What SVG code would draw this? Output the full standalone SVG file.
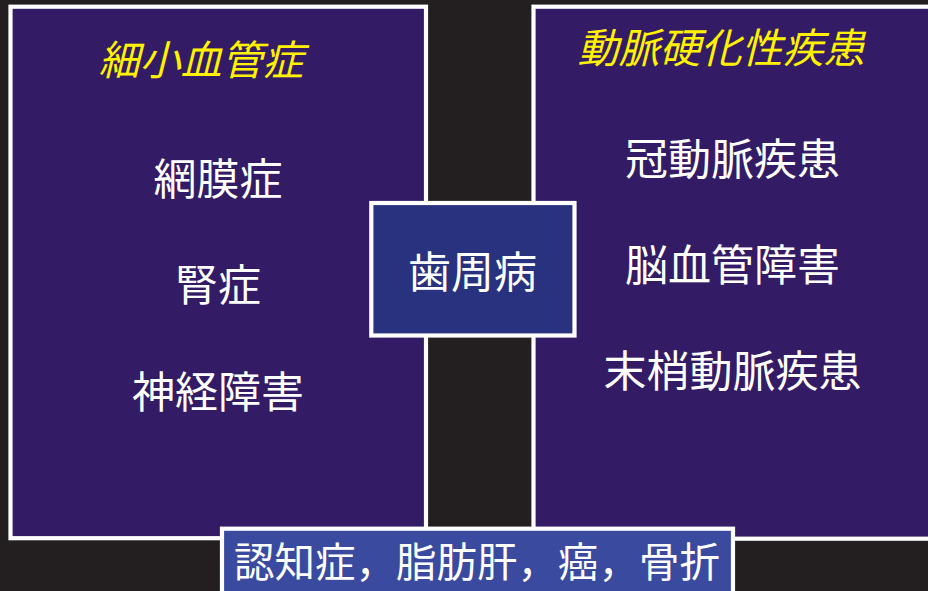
<svg xmlns="http://www.w3.org/2000/svg" width="928" height="591" viewBox="0 0 928 591">
<style>
.box{stroke:#ffffff;stroke-width:4.2}
.t{font-family:"Noto Sans CJK JP","Noto Sans CJK SC",sans-serif;fill:#ffffff;font-size:43px;text-anchor:middle;dominant-baseline:central}
.title{fill:#fff200;font-style:italic;font-size:41px}
</style>
<rect x="0" y="0" width="928" height="591" fill="#231f20"/>
<g id="microvascular">
<rect class="box" x="10.5" y="6.7" width="415.5" height="531.5" fill="#331b66"/>
<text class="t title" x="201" y="57">細小血管症</text>
<text class="t" x="218" y="176">網膜症</text>
<text class="t" x="218" y="282">腎症</text>
<text class="t" x="218" y="389">神経障害</text>
</g>
<g id="atherosclerotic">
<rect class="box" x="533.5" y="6.7" width="410" height="532" fill="#331b66"/>
<text class="t title" x="721" y="45">動脈硬化性疾患</text>
<text class="t" x="732.5" y="156">冠動脈疾患</text>
<text class="t" x="732.5" y="262">脳血管障害</text>
<text class="t" x="732.5" y="368">末梢動脈疾患</text>
</g>
<g id="connectors"></g>
<g id="periodontal">
<rect class="box" x="371.3" y="203" width="203.2" height="132.5" fill="#29327f"/>
<text class="t" x="472.5" y="269">歯周病</text>
</g>
<g id="others">
<rect class="box" x="222" y="528.7" width="511" height="80" fill="#3a4a9f"/>
<text class="t" x="477" y="559" style="font-size:40.5px">認知症，脂肪肝，癌，骨折</text>
</g>
</svg>
